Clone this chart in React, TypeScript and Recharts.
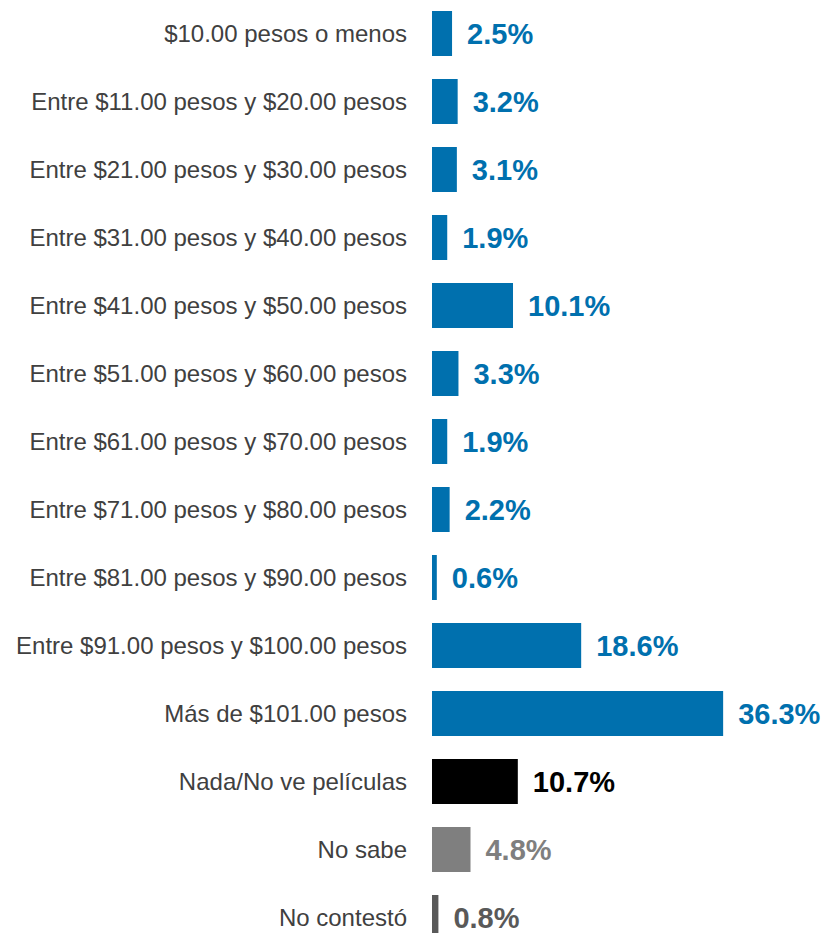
import React from 'react';
import { BarChart, Bar, XAxis, YAxis, Cell, LabelList } from 'recharts';

const categories = [
  '$10.00 pesos o menos',
  'Entre $11.00 pesos y $20.00 pesos',
  'Entre $21.00 pesos y $30.00 pesos',
  'Entre $31.00 pesos y $40.00 pesos',
  'Entre $41.00 pesos y $50.00 pesos',
  'Entre $51.00 pesos y $60.00 pesos',
  'Entre $61.00 pesos y $70.00 pesos',
  'Entre $71.00 pesos y $80.00 pesos',
  'Entre $81.00 pesos y $90.00 pesos',
  'Entre $91.00 pesos y $100.00 pesos',
  'Más de $101.00 pesos',
  'Nada/No ve películas',
  'No sabe',
  'No contestó',
];

const values = [2.5, 3.2, 3.1, 1.9, 10.1, 3.3, 1.9, 2.2, 0.6, 18.6, 36.3, 10.7, 4.8, 0.8];

const BLUE = '#0070ae';
const barColors = [
  BLUE, BLUE, BLUE, BLUE, BLUE, BLUE, BLUE, BLUE, BLUE, BLUE, BLUE,
  '#000000', '#7f7f7f', '#595959',
];

const data = categories.map((name, i) => ({ name, value: values[i] }));

function ValueLabel(props: any) {
  const { x, y, width, height, value, index } = props;
  return (
    <text
      x={x + width + 15}
      y={y + height / 2}
      fill={barColors[index]}
      fontSize={29}
      fontWeight="bold"
      fontFamily="'Liberation Sans', Arial, sans-serif"
      dominantBaseline="central"
    >
      {Number(value).toFixed(1)}%
    </text>
  );
}

export default function App() {
  return (
    <div style={{ position: 'absolute', top: 0, left: 0, width: 825, height: 933, overflow: 'hidden', background: '#fff' }}>
      <BarChart
        width={825}
        height={952}
        data={data}
        layout="vertical"
        margin={{ top: -1, right: 0, bottom: 1, left: 0 }}
        barSize={45}
      >
        <XAxis type="number" domain={[0, 49]} hide />
        <YAxis
          type="category"
          dataKey="name"
          width={432}
          axisLine={false}
          tickLine={false}
          tickSize={0}
          tickMargin={25}
          interval={0}
          tick={{ fill: '#404040', fontSize: 24, fontFamily: "'Liberation Sans', Arial, sans-serif" }}
        />
        <Bar dataKey="value" isAnimationActive={false}>
          {data.map((d, i) => (
            <Cell key={d.name} fill={barColors[i]} />
          ))}
          <LabelList dataKey="value" content={<ValueLabel />} />
        </Bar>
      </BarChart>
    </div>
  );
}
